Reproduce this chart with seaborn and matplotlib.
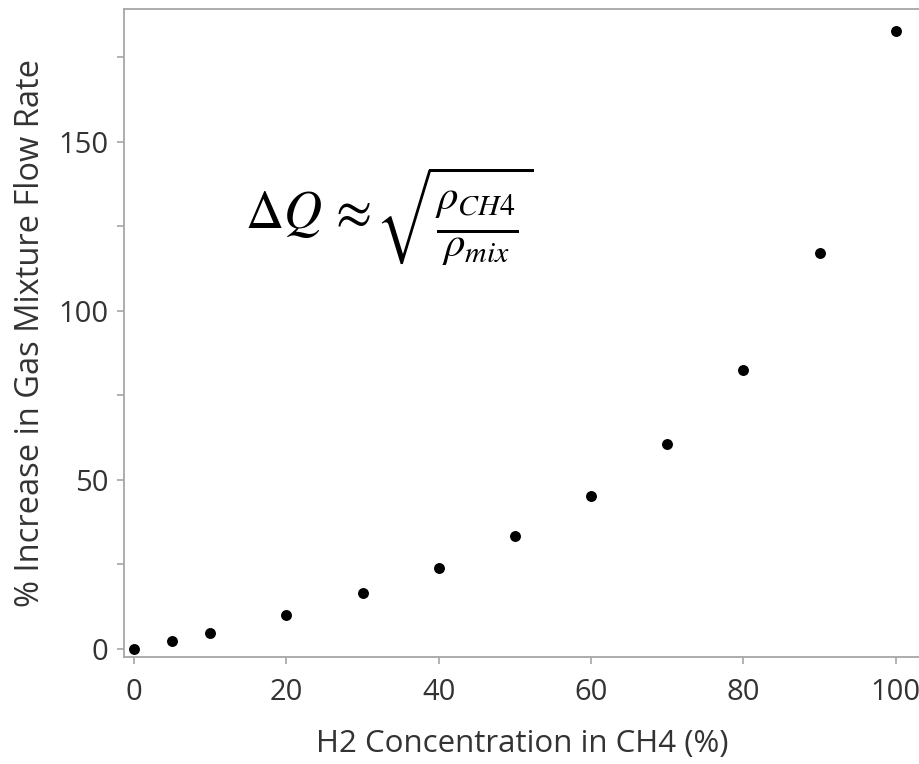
import matplotlib
matplotlib.use("Agg")
import matplotlib.pyplot as plt
import seaborn as sns
import pandas as pd

h2_conc = [0, 5, 10, 20, 30, 40, 50, 60, 70, 80, 90, 100]
flow_increase = [0, 2.3, 4.7, 10.1, 16.5, 24.0, 33.4, 45.2, 60.7, 82.6, 117.0, 182.8]
y_ticks = [0, 25, 50, 75, 100, 125, 150, 175]
y_labels = ["0", "", "50", "", "100", "", "150", ""]
x_ticks = [0, 20, 40, 60, 80, 100]

df = pd.DataFrame({"h2": h2_conc, "flow": flow_increase})

sns.set_style("white")
plt.rcParams["font.family"] = ["Open Sans", "DejaVu Sans"]
plt.rcParams["mathtext.fontset"] = "stix"

fig = plt.figure(figsize=(9.19, 7.64), dpi=100)
ax = fig.add_axes([123.5 / 919, 1 - 657 / 764, 1 - 123.5 / 919 + 0.002, (657 - 9) / 764])

sns.scatterplot(data=df, x="h2", y="flow", ax=ax, color="black", s=62,
                edgecolor="black", linewidth=0, zorder=3)

ax.set_xlim(-1.4, 103.3)
ax.set_ylim(-2.4, 189.2)
ax.set_xticks(x_ticks)
ax.set_xticklabels([str(v) for v in x_ticks])
ax.set_yticks(y_ticks)
ax.set_yticklabels(y_labels)

grey = "#a6a6a6"
for side in ["left", "bottom", "top"]:
    ax.spines[side].set_color(grey)
    ax.spines[side].set_linewidth(1.3)
ax.spines["right"].set_visible(False)

ax.tick_params(axis="both", which="both", direction="out", length=5, width=1.2,
               color=grey, labelsize=21, labelcolor="#333333", bottom=True, left=True)
ax.tick_params(axis="x", pad=10)
ax.tick_params(axis="y", pad=6)

ax.set_xlabel("H2 Concentration in CH4 (%)", fontsize=22.5, color="#333333", labelpad=16)
ax.set_ylabel("% Increase in Gas Mixture Flow Rate", fontsize=23.5, color="#333333", labelpad=8)

ax.text(14.5, 128.5, r"$\Delta Q\,\approx$",
        fontsize=38, color="black", va="center", ha="left")
ax.text(31.6, 128.0, r"$\sqrt{\frac{\rho_{CH4}}{\rho_{mix}}}$",
        fontsize=44, color="black", va="center", ha="left")

fig.savefig("out.png", dpi=100)
